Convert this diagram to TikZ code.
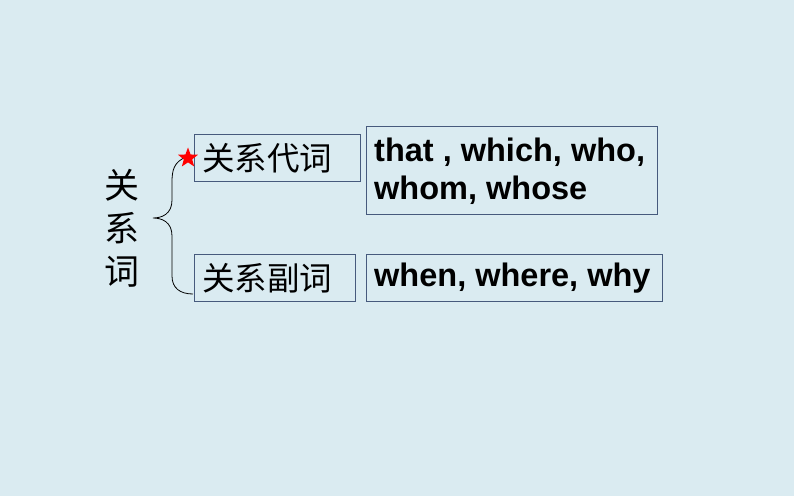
\documentclass[tikz,border=0pt]{standalone}
\usepackage{fontspec}
\setmainfont{Liberation Sans}
\newfontfamily\cjk{Noto Sans CJK SC}[BoldFont={Noto Sans CJK SC}]
\usetikzlibrary{shapes.geometric}
\definecolor{bg}{RGB}{218,235,241}
\definecolor{boxline}{RGB}{70,90,125}
\tikzset{
  box/.style={draw=boxline, line width=0.9pt, inner sep=0pt},
  cjktext/.style={font=\cjk\fontsize{32.5}{36}\selectfont, text=black},
  entext/.style={font=\bfseries\fontsize{32.5}{38}\selectfont, text=black, align=left, anchor=west},
}
\begin{document}
\begin{tikzpicture}[x=1pt,y=1pt]
\useasboundingbox (0,0) rectangle (794,496);
\fill[bg] (0,0) rectangle (794,496);
% boxes (pixel y -> 496-y)
\node[box, minimum width=166pt, minimum height=47pt] (b1) at ({(194+360)/2},{496-(134+181)/2}) {};
\node[box, minimum width=291pt, minimum height=88pt] (b2) at ({(366+657)/2},{496-(126+214)/2}) {};
\node[box, minimum width=161pt, minimum height=47pt] (b3) at ({(194+355)/2},{496-(254+301)/2}) {};
\node[box, minimum width=296pt, minimum height=47pt] (b4) at ({(366+662)/2},{496-(254+301)/2}) {};
% texts
\node[cjktext, anchor=west, inner sep=0pt] (t1) at (202,{496-158}) {关系代词};
\node[cjktext, anchor=west, inner sep=0pt] (t3) at (202,{496-278}) {关系副词};
\node[entext, inner sep=0pt] (t2) at (374,{496-171}) {that , which, who,\\whom, whose};
\node[entext, inner sep=0pt] (t4) at (374,{496-278}) {when, where, why};
\node[cjktext, align=center, font=\cjk\fontsize{35}{43}\selectfont] (t0) at (122,{496-228}) {关\\系\\词};
% brace
\coordinate (btop) at (186,{496-157});
\coordinate (btip) at (153,{496-218});
\coordinate (bbot) at (193,{496-294});
\draw[black, line width=0.8pt] (btop) .. controls (174,{496-162}) and (172,{496-170}) .. (172,{496-182})
  -- (172,{496-200}) .. controls (172,{496-214}) and (162,{496-218}) .. (btip)
  .. controls (162,{496-218}) and (172,{496-222}) .. (172,{496-236})
  -- (172,{496-276}) .. controls (172,{496-288}) and (180,{496-294}) .. (bbot);
% star
\node[star, star points=5, star point ratio=2.4, fill=red, draw=none, minimum size=21pt, inner sep=0pt] (st) at (188,{496-158}) {};
\end{tikzpicture}
\end{document}
